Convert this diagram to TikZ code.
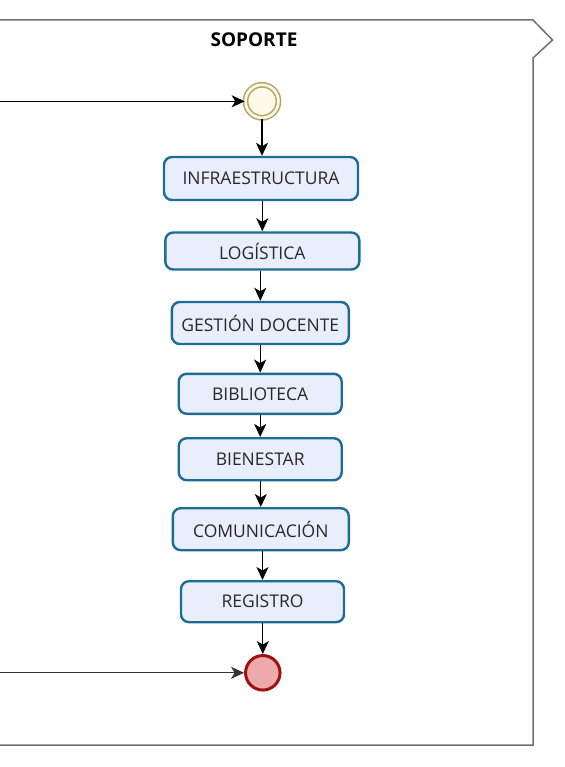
\documentclass[tikz,border=0pt]{standalone}
\usepackage{fontspec}
\setmainfont{Open Sans}
\usetikzlibrary{arrows.meta}
\definecolor{boxline}{RGB}{28,108,150}
\definecolor{boxfill}{RGB}{232,238,252}
\definecolor{boxtext}{RGB}{40,40,40}
\definecolor{framegray}{RGB}{112,112,112}
\definecolor{startline}{RGB}{180,168,100}
\definecolor{startfill}{RGB}{253,250,234}
\definecolor{endline}{RGB}{160,18,18}
\definecolor{endfill}{RGB}{238,170,170}
\tikzset{
  task/.style={draw=boxline, fill=boxfill, line width=2.4bp, rounded corners=8bp,
    text=boxtext, font=\fontsize{17.5bp}{20bp}\selectfont, inner sep=0pt},
  flow/.style={draw=black, line width=1.3bp, -{Stealth[length=13bp,width=12bp,inset=3.5bp]}},
  startev/.style={circle, draw=startline, fill=startfill, line width=1.6bp,
    double=startfill, double distance=2.6bp, minimum size=33bp, inner sep=0pt},
  endev/.style={circle, draw=endline, fill=endfill, line width=3bp, minimum size=34.5bp, inner sep=0pt},
}
\begin{document}
\begin{tikzpicture}[x=1bp,y=-1bp]
\useasboundingbox (0,0) rectangle (565,767);
% pool frame
\draw[framegray, line width=1.5bp] (0,20) -- (533,20) -- (552.5,40) -- (533,58) -- (533,745) -- (0,745);
\node[font=\bfseries\fontsize{19bp}{22bp}\selectfont] (title) at (254,40) {SOPORTE};
% events
\node[startev] (start) at (262,101.3) {};
\node[endev] (end) at (262.8,672.8) {};
% tasks
\node[task, minimum width=194bp, minimum height=43bp] (infra) at (261,178.5) {INFRAESTRUCTURA};
\node[task, minimum width=194bp, minimum height=37bp] (logi) at (262.3,251) {LOGÍSTICA};
\node[task, minimum width=177bp, minimum height=42bp] (gest) at (260.3,323) {GESTIÓN DOCENTE};
\node[task, minimum width=163bp, minimum height=40bp] (bibl) at (260.2,393.8) {BIBLIOTECA};
\node[task, minimum width=163bp, minimum height=42bp] (bien) at (260.2,459.2) {BIENESTAR};
\node[task, minimum width=176bp, minimum height=42bp] (comu) at (260.8,529.2) {COMUNICACIÓN};
\node[task, minimum width=163bp, minimum height=41bp] (regi) at (262.5,601.7) {REGISTRO};
% incoming from left
\coordinate (inA) at (0,101.3);
\coordinate (inB) at (0,672.8);
\draw[flow] (inA) -- (start.west);
\draw[flow, draw=black!80] (inB) -- (end.west);
% sequence flows
\draw[flow] (start.south) -- (start.south |- infra.north);
\draw[flow] (infra.south -| logi) -- (logi.north);
\draw[flow] (logi.south -| gest) -- (gest.north);
\draw[flow] (gest.south -| bibl) -- (bibl.north);
\draw[flow] (bibl.south -| bien) -- (bien.north);
\draw[flow] (bien.south -| comu) -- (comu.north);
\draw[flow] (comu.south -| regi) -- (regi.north);
\draw[flow] (regi.south -| end) -- (end.north);
\end{tikzpicture}
\end{document}
